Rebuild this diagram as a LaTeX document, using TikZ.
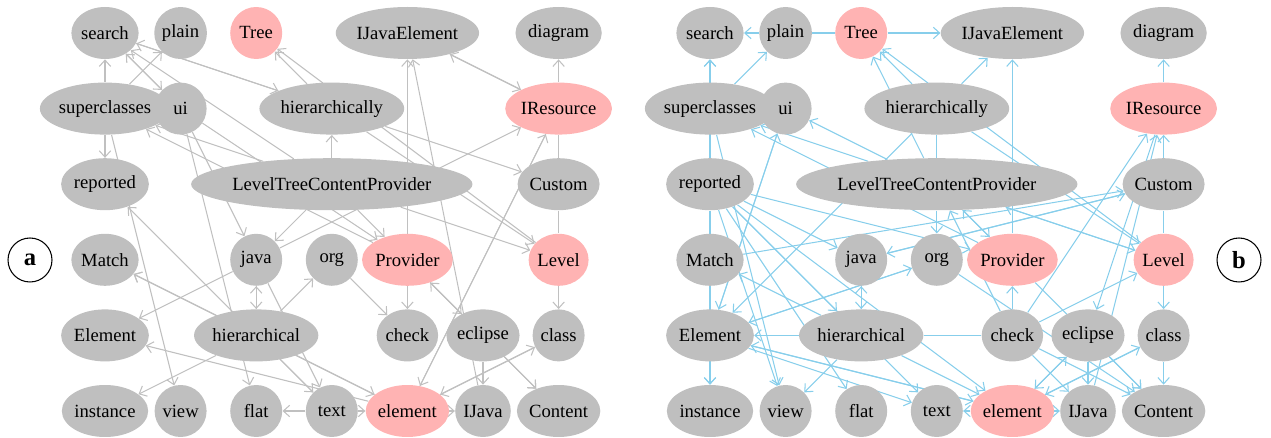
\documentclass[tikz,border=0pt]{standalone}
\usepackage{fontspec}
\setmainfont{Liberation Serif}
\usetikzlibrary{shapes.geometric,arrows.meta,backgrounds}
\definecolor{nodegray}{RGB}{191,191,191}
\definecolor{nodepink}{RGB}{255,179,179}
\definecolor{edgegray}{RGB}{192,192,192}
\definecolor{edgeblue}{RGB}{135,206,235}
\tikzset{
  word/.style={ellipse, inner sep=0pt, minimum width=1.04cm, minimum height=1.04cm,
    fill=nodegray, font=\fontsize{10.6}{12}\selectfont},
  hit/.style={word, fill=nodepink},
  tag/.style={circle, draw, line width=0.6pt, minimum size=0.88cm,
    font=\fontsize{14}{16}\selectfont\bfseries},
  gline/.style={edgegray, line width=0.6pt},
  bline/.style={edgeblue, line width=0.6pt}
}
\begin{document}
\begin{tikzpicture}[x=0.02cm, y=-0.02cm, >={Straight Barb[length=3.6pt,width=6.5pt]}]
\useasboundingbox (0,0) rectangle (1271,438);
% the two graphs share one grid of words
\foreach \g/\dx in {a/0,b/605}{
  \foreach \n/\c/\r/\s in {search/0/0/word, plain/1/0/word, Tree/2/0/hit, IJavaElement/4/0/word, diagram/6/0/word,
      superclasses/0/1/word, ui/1/1/word, hierarchically/3/1/word, IResource/6/1/hit,
      reported/0/2/word, LevelTreeContentProvider/3/2/word, Custom/6/2/word,
      Match/0/3/word, java/2/3/word, org/3/3/word, Provider/4/3/hit, Level/6/3/hit,
      Element/0/4/word, hierarchical/2/4/word, check/4/4/word, eclipse/5/4/word, class/6/4/word,
      instance/0/5/word, view/1/5/word, flat/2/5/word, text/3/5/word, element/4/5/hit, IJava/5/5/word, Content/6/5/word}
    \node[\s] (\g-\n) at ({105+\dx+75.6*\c},{33+75.6*\r}) {\n};
}
\node[tag] (a-tag) at (30,260) {a};
\node[tag] (b-tag) at (1239,260) {b};

\begin{scope}[on background layer]
% graph a
\foreach \u/\v in {superclasses/search, ui/search, search/ui, superclasses/plain,
    hierarchically/search, search/hierarchically, hierarchically/Tree, Level/Tree,
    LevelTreeContentProvider/hierarchically, LevelTreeContentProvider/superclasses,
    Provider/superclasses, LevelTreeContentProvider/search, superclasses/reported,
    superclasses/view, text/reported, ui/java, LevelTreeContentProvider/java,
    java/IResource, java/Element, hierarchical/java, java/hierarchical, hierarchical/org,
    hierarchical/Match, element/Match, element/Element, hierarchical/instance, text/flat,
    ui/flat, hierarchical/text, java/text, org/check, Provider/check, eclipse/Provider,
    Provider/eclipse, check/IJavaElement, IJava/IJavaElement, element/IResource,
    IResource/element, Level/class, class/element, element/class, eclipse/IJava,
    eclipse/Content, Provider/Content, element/IJava, text/element, hierarchical/element,
    LevelTreeContentProvider/Provider, LevelTreeContentProvider/Level,
    IResource/IJavaElement, IJavaElement/IResource, IResource/diagram,
    hierarchically/Custom, hierarchically/Level, ui/Provider}
  \draw[gline,->] (a-\u) -- (a-\v);
\foreach \u/\v in {Custom/IResource, Custom/Level}
  \draw[gline] (a-\u) -- (a-\v);
% graph b
\foreach \u/\v in {plain/search, Tree/IJavaElement, superclasses/search, reported/search,
    superclasses/plain, ui/Element, Element/ui, LevelTreeContentProvider/ui,
    LevelTreeContentProvider/superclasses, Provider/superclasses, hierarchically/Tree,
    LevelTreeContentProvider/Tree, Level/Tree, hierarchically/IJavaElement,
    Provider/IJavaElement, IResource/diagram, Custom/IResource, check/IResource,
    IResource/eclipse, IJava/IResource, Match/Custom, LevelTreeContentProvider/Level,
    Level/LevelTreeContentProvider, hierarchically/Level, check/Level, Level/class,
    class/Content, element/text, element/IJava, reported/element, hierarchical/element,
    Element/element, element/eclipse, eclipse/element, element/class, class/element,
    check/IJava, check/Content, eclipse/Content, eclipse/IJava, check/Provider,
    LevelTreeContentProvider/Provider, Provider/LevelTreeContentProvider,
    check/LevelTreeContentProvider, reported/Provider, Element/org, org/Element,
    java/hierarchical, hierarchical/java, Custom/java, reported/java,
    reported/hierarchical, reported/flat, reported/view, superclasses/view, reported/text,
    hierarchical/Match, hierarchical/Element, element/Element, Element/text,
    hierarchical/view, Element/instance, reported/instance, hierarchically/Element,
    LevelTreeContentProvider/org, java/Custom, org/Content, Provider/Content}
  \draw[bline,->] (b-\u) -- (b-\v);
\foreach \u/\v in {Tree/plain, Custom/Level, hierarchical/check,
    hierarchically/LevelTreeContentProvider, Element/reported}
  \draw[bline] (b-\u) -- (b-\v);
\end{scope}
\end{tikzpicture}
\end{document}
